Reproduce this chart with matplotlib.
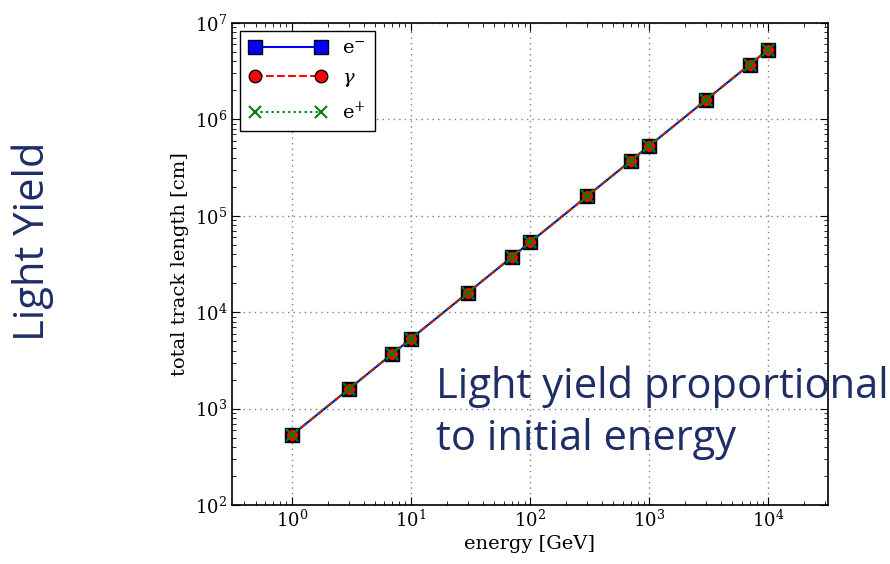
import numpy as np
import matplotlib
matplotlib.use("Agg")
from matplotlib import pyplot as plt

# energies [GeV] and total track length [cm]
energy = [1, 3, 7, 10, 30, 70, 100, 300, 700, 1000, 3000, 7000, 10000]
length_em = [530, 1590, 3710, 5300, 15900, 37100, 53000, 159000, 371000, 530000, 1590000, 3710000, 5300000]
length_gamma = [530, 1590, 3710, 5300, 15900, 37100, 53000, 159000, 371000, 530000, 1590000, 3710000, 5300000]
length_ep = [530, 1590, 3710, 5300, 15900, 37100, 53000, 159000, 371000, 530000, 1590000, 3710000, 5300000]

navy = "#1f2d66"

plt.rcParams["font.family"] = "DejaVu Serif"
plt.rcParams["mathtext.fontset"] = "dejavuserif"

fig = plt.figure(figsize=(8.9, 5.64), dpi=100)
ax = fig.add_axes([0.261, 0.1046, 0.669, 0.8546])

ax.plot(energy, length_em, "b-", marker="s", markersize=10, markeredgecolor="k", label=r"$\mathrm{e}^{-}$")
ax.plot(energy, length_gamma, "r--", marker="o", markersize=9, markeredgecolor="k", label=r"$\gamma$")
ax.plot(energy, length_ep, "g:", marker="x", markersize=9, markeredgewidth=1.5, label=r"$\mathrm{e}^{+}$")

ax.set_xscale("log")
ax.set_yscale("log")
ax.set_xlim(10 ** -0.5, 10 ** 4.5)
ax.set_ylim(1e2, 1e7)
ax.grid(True, which="major", linestyle=(0, (1, 3)), color="gray", linewidth=1.0)
ax.tick_params(which="both", direction="in", top=True, right=True, labelsize=13)
ax.tick_params(which="major", length=6)
ax.tick_params(which="minor", length=3)
for s in ax.spines.values():
    s.set_linewidth(1.2)

ax.set_xlabel("energy [GeV]", fontsize=14, labelpad=3)
ax.set_ylabel("total track length [cm]", fontsize=14)

leg = ax.legend(loc="upper left", numpoints=2, fontsize=14, fancybox=False,
                edgecolor="k", framealpha=1, handlelength=4, labelspacing=0.6,
                borderpad=0.45, borderaxespad=0.4)
leg.get_frame().set_linewidth(1.0)

fig.text(0.037, 0.572, "Light Yield", rotation=90, color=navy, fontsize=30,
         family="Open Sans", ha="center", va="center")
fig.text(0.49, 0.268, "Light yield proportional\nto initial energy", color=navy,
         fontsize=30, family="Open Sans", ha="left", va="center", linespacing=1.3)

fig.savefig("out.png", dpi=100)
